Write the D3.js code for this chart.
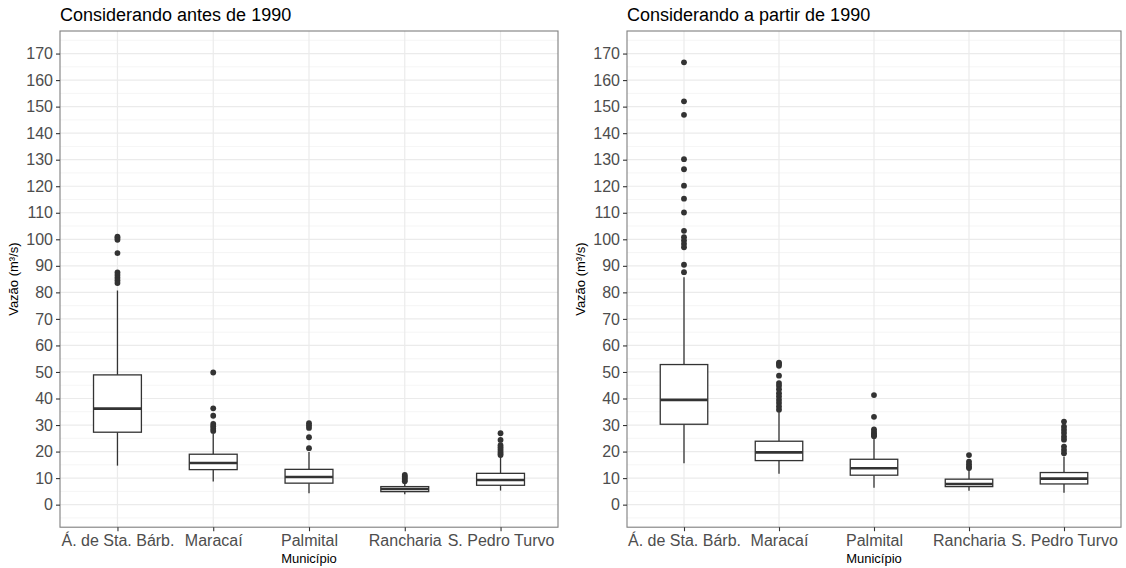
<!DOCTYPE html>
<html>
<head>
<meta charset="utf-8">
<script src="https://cdn.jsdelivr.net/npm/d3@7"></script>
<style>
  body { margin: 0; background: #fff; }
  svg text { font-family: "Liberation Sans", Arial, sans-serif; }
</style>
</head>
<body>
<div id="vis"></div>
<script>
// categories and tick labels
const municipios = ["Á. de Sta. Bárb.", "Maracaí", "Palmital", "Rancharia", "S. Pedro Turvo"];
const yTicks = d3.range(0, 171, 10);

// antes de 1990: box stats per municipio
const antesQ1 = [27.3, 13.2, 8.1, 4.9, 7.3];
const antesMed = [36.2, 15.7, 10.4, 5.9, 9.3];
const antesQ3 = [48.9, 19.0, 13.3, 6.8, 11.8];
const antesLow = [14.7, 8.7, 4.3, 3.9, 5.3];
const antesHigh = [80.7, 26.9, 19.8, 8.1, 18.1];
const antesOut = [
  [101, 100.5, 99.8, 94.8, 87.5, 86.5, 85.5, 84.5, 83.5],
  [49.8, 36.3, 33.5, 30.4, 29.5, 28.6, 27.8],
  [30.7, 29.8, 28.9, 25.4, 21.3],
  [11.2, 10.6, 10, 9.4, 8.8],
  [26.9, 24.4, 22.4, 21.6, 20.8, 20, 19.3, 18.7]
];

// a partir de 1990
const apartirQ1 = [30.3, 16.6, 11.1, 6.8, 7.8];
const apartirMed = [39.5, 19.7, 13.7, 7.8, 9.8];
const apartirQ3 = [52.8, 23.9, 17.1, 9.6, 12.1];
const apartirLow = [15.6, 11.6, 6.4, 5.2, 4.5];
const apartirHigh = [85.7, 35.0, 25.0, 13.1, 18.1];
const apartirOut = [
  [166.7, 152.0, 146.9, 130.2, 126.4, 120.2, 115.3, 110.1, 103.2, 100.8, 99.5, 98.3, 97.0, 90.4, 87.6],
  [53.5, 53.0, 52.3, 48.6, 45.8, 44.8, 43.5, 42.0, 40.8, 39.5, 38.3, 37.0, 35.8],
  [41.3, 33.1, 28.4, 27.5, 26.8, 26.2, 25.8],
  [18.7, 16.2, 15.2, 14.3, 13.8],
  [31.3, 29.4, 28.2, 27.0, 25.6, 24.5, 21.9, 20.6, 19.4]
];

const panels = [
  {title: "Considerando antes de 1990", left: 60, right: 558, q1: antesQ1, med: antesMed, q3: antesQ3, lo: antesLow, hi: antesHigh, out: antesOut},
  {title: "Considerando a partir de 1990", left: 627, right: 1121, q1: apartirQ1, med: apartirMed, q3: apartirQ3, lo: apartirLow, hi: apartirHigh, out: apartirOut}
];

const W = 1126, H = 568;
const plotTop = 31, plotBottom = 527.2;

const svg = d3.select("#vis").append("svg")
    .attr("width", W)
    .attr("height", H);

const y = d3.scaleLinear().domain([-8.5, 178.5]).range([plotBottom, plotTop]);

panels.forEach(p => {
    // discrete x: 0.6 units padding each side
    const xl = d3.scaleLinear().domain([0.4, 5.6]).range([p.left, p.right]);
    const unit = xl(2) - xl(1);
    const cx = i => xl(i + 1);

    const g = svg.append("g");

    // minor grid
    g.selectAll(".minor").data(d3.range(-5, 176, 10)).enter()
        .append("line")
        .attr("x1", p.left).attr("x2", p.right)
        .attr("y1", d => y(d)).attr("y2", d => y(d))
        .attr("stroke", "#f2f2f2").attr("stroke-width", 0.8);

    // major grid
    g.selectAll(".major").data(yTicks).enter()
        .append("line")
        .attr("x1", p.left).attr("x2", p.right)
        .attr("y1", d => y(d)).attr("y2", d => y(d))
        .attr("stroke", "#ebebeb").attr("stroke-width", 1.2);

    g.selectAll(".vgrid").data(municipios).enter()
        .append("line")
        .attr("x1", (d, i) => cx(i)).attr("x2", (d, i) => cx(i))
        .attr("y1", plotTop).attr("y2", plotBottom)
        .attr("stroke", "#ebebeb").attr("stroke-width", 1.2);

    // boxes
    const bw = unit * 0.5;
    municipios.forEach((m, i) => {
        const x0 = cx(i);
        g.append("line")
            .attr("x1", x0).attr("x2", x0)
            .attr("y1", y(p.hi[i])).attr("y2", y(p.q3[i]))
            .attr("stroke", "#333").attr("stroke-width", 1.3);
        g.append("line")
            .attr("x1", x0).attr("x2", x0)
            .attr("y1", y(p.q1[i])).attr("y2", y(p.lo[i]))
            .attr("stroke", "#333").attr("stroke-width", 1.3);
        g.append("rect")
            .attr("x", x0 - bw / 2).attr("width", bw)
            .attr("y", y(p.q3[i])).attr("height", y(p.q1[i]) - y(p.q3[i]))
            .attr("fill", "#fff").attr("stroke", "#333").attr("stroke-width", 1.3);
        g.append("line")
            .attr("x1", x0 - bw / 2).attr("x2", x0 + bw / 2)
            .attr("y1", y(p.med[i])).attr("y2", y(p.med[i]))
            .attr("stroke", "#333").attr("stroke-width", 2.6);
        g.selectAll(".out" + i).data(p.out[i]).enter()
            .append("circle")
            .attr("cx", x0).attr("cy", d => y(d))
            .attr("r", 2.9)
            .attr("fill", "#333");
    });

    // panel border
    g.append("rect")
        .attr("x", p.left).attr("y", plotTop)
        .attr("width", p.right - p.left).attr("height", plotBottom - plotTop)
        .attr("fill", "none").attr("stroke", "#7f7f7f").attr("stroke-width", 1.1);

    // y axis
    const ya = g.append("g")
        .attr("transform", "translate(" + p.left + ",0)")
        .call(d3.axisLeft(y).tickValues(yTicks).tickSize(4).tickPadding(3));
    ya.select(".domain").remove();
    ya.selectAll(".tick line").attr("stroke", "#333").attr("stroke-width", 1.1);
    ya.selectAll(".tick text").attr("fill", "#4d4d4d").style("font-size", "16px")
        .style("font-family", "Liberation Sans, Arial, sans-serif");

    // x axis
    const xs = d3.scalePoint().domain(municipios).range([cx(0), cx(4)]);
    const xa = g.append("g")
        .attr("transform", "translate(0," + plotBottom + ")")
        .call(d3.axisBottom(xs).tickSize(4).tickPadding(3));
    xa.select(".domain").remove();
    xa.selectAll(".tick line").attr("stroke", "#333").attr("stroke-width", 1.1);
    xa.selectAll(".tick text").attr("fill", "#4d4d4d").style("font-size", "16px")
        .style("font-family", "Liberation Sans, Arial, sans-serif");

    // titles
    g.append("text")
        .attr("x", p.left).attr("y", 21)
        .style("font-size", "18px").attr("fill", "#000")
        .text(p.title);

    g.append("text")
        .attr("x", (p.left + p.right) / 2).attr("y", 563)
        .attr("text-anchor", "middle")
        .style("font-size", "13px").attr("fill", "#000")
        .text("Município");

    g.append("text")
        .attr("transform", "translate(" + (p.left - 42) + "," + ((plotTop + plotBottom) / 2) + ") rotate(-90)")
        .attr("text-anchor", "middle")
        .style("font-size", "13px").attr("fill", "#000")
        .text("Vazão (m³/s)");
});
</script>
</body>
</html>
